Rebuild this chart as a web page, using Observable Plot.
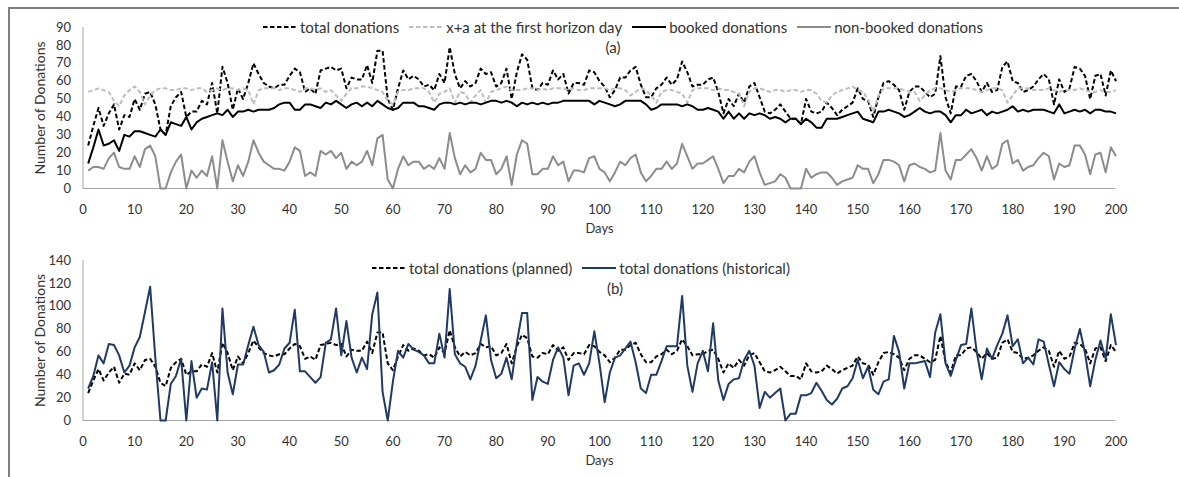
<!DOCTYPE html>
<html>
<head>
<meta charset="utf-8">
<script src="https://cdn.jsdelivr.net/npm/d3@7"></script>
<script src="https://cdn.jsdelivr.net/npm/@observablehq/plot@0.6"></script>
<style>
  body { margin: 0; background: #fff; }
  #fig { position: relative; width: 1179px; height: 477px; overflow: hidden;
         font-family: Lato, "Open Sans", sans-serif; color: #333; background: #fff; }
  #frame { position: absolute; left: 8px; top: 7px; right: -10px; bottom: -10px; z-index: 5;
           border-left: 2px solid #7f7f7f; border-top: 2px solid #7f7f7f; pointer-events: none; }
  .panel { position: absolute; left: 0; }
  .legend { position: absolute; display: flex; align-items: center; font-size: 15px;
            white-space: nowrap; line-height: 18px; }
  .legend .item { display: flex; align-items: center; margin-right: 10px; }
  .legend svg { margin-right: 3px; }
  .tag { position: absolute; font-size: 15px; line-height: 18px; transform: translateX(-50%); }
</style>
</head>
<body>
<div id="fig">
  <div id="panelA" class="panel" style="top:0px"></div>
  <div id="panelB" class="panel" style="top:245px"></div>
  <div id="legendA" class="legend" style="left:263px; top:18px"></div>
  <div class="tag" style="left:613px; top:38px">(a)</div>
  <div id="legendB" class="legend" style="left:372px; top:259px"></div>
  <div class="tag" style="left:615px; top:279px">(b)</div>
  <div id="frame"></div>
</div>
<script>
// Days of the planning horizon
const days = d3.range(1, 201);
const dayTicks = d3.range(0, 201, 10);
const ticksA = d3.range(0, 91, 10);
const ticksB = d3.range(0, 141, 20);

// Panel (a) series
const booked = [
  14,23,33,24,25,27,21,30,29,32, 32,31,30,29,33,30,37,36,35,40,
  33,37,39,40,41,42,41,44,40,43, 43,44,43,44,44,44,45,47,48,48,
  44,44,47,47,46,45,48,47,49,47, 45,47,48,46,48,46,49,47,45,44,
  45,48,48,48,46,46,45,44,47,48, 48,47,48,47,48,48,47,48,49,49,
  48,49,48,46,48,47,48,47,48,47, 48,48,49,49,49,49,49,49,47,49,
  48,47,46,47,49,49,49,49,47,44, 45,47,47,47,47,46,47,46,44,44,
  45,44,43,39,43,39,42,39,42,41, 42,41,39,40,39,37,39,39,36,39,
  37,34,34,39,39,39,40,41,42,43, 39,38,37,43,43,44,43,42,40,41,
  43,45,43,42,43,43,41,37,41,41, 44,42,43,44,41,43,42,43,44,46,
  43,44,43,44,44,44,43,42,47,42, 43,44,43,44,42,44,44,43,43,42
];
const nonBooked = [
  10,12,12,11,17,20,12,11,11,18, 12,22,24,18,0,0,9,15,19,0,
  10,6,10,7,18,0,27,15,4,13, 7,15,27,20,15,13,11,11,10,15,
  23,21,7,9,7,21,19,21,17,20, 11,15,13,15,21,13,28,30,5,0,
  11,18,13,15,15,11,13,11,17,11, 31,17,8,13,9,11,20,16,16,8,
  11,18,2,19,27,25,8,8,11,11, 18,13,15,4,10,10,9,17,18,11,
  9,4,9,15,13,17,19,9,4,7, 11,11,15,11,14,25,18,11,14,14,
  16,18,11,3,7,7,11,9,15,18, 9,2,3,4,8,6,0,0,0,11,
  6,8,9,9,6,2,4,5,6,13, 11,11,3,8,16,16,15,13,4,13,
  14,12,11,9,10,31,10,5,16,16, 19,22,17,10,18,11,13,25,27,14,
  16,10,12,13,17,20,18,5,14,12, 13,24,24,19,8,19,20,9,23,18
];
const totalDonations = [
  24,35,45,35,42,47,33,41,40,50, 44,53,54,47,33,30,46,51,54,40,
  43,43,49,47,59,42,68,59,44,56, 50,59,70,64,59,57,56,58,58,63,
  67,65,54,56,53,66,67,68,66,67, 56,62,61,61,69,59,77,77,50,44,
  56,66,61,63,61,57,58,55,64,59, 79,64,56,60,57,59,67,64,65,57,
  59,67,50,65,75,72,56,55,59,58, 66,61,64,53,59,59,58,66,65,60,
  57,51,55,62,62,66,68,58,51,51, 56,58,62,58,61,71,65,57,58,58,
  61,62,54,42,50,46,53,48,57,59, 51,43,42,44,47,43,39,39,36,50,
  43,42,43,48,45,41,44,46,48,56, 50,49,40,51,59,60,58,55,44,54,
  57,57,54,51,53,74,51,42,57,57, 63,64,60,54,59,54,55,68,71,60,
  59,54,55,57,61,64,61,47,61,54, 56,68,67,63,50,63,64,52,66,60
];
const firstHorizon = [
  54,55,56,55,54,49,46,52,55,57, 54,47,52,55,56,56,55,55,56,56,
  55,56,56,54,55,56,55,56,56,55, 56,55,47,55,56,56,56,55,56,56,
  55,54,56,56,55,56,54,55,52,49, 53,56,56,57,57,56,55,54,49,47,
  54,55,55,56,56,56,54,48,53,54, 56,48,54,53,48,52,55,48,54,55,
  56,57,55,55,55,56,56,55,56,55, 56,56,56,55,56,55,55,56,56,56,
  56,55,56,56,55,52,54,56,55,52, 48,54,55,55,54,53,48,55,56,56,
  56,55,56,55,55,54,53,46,54,56, 56,55,54,55,55,54,55,55,54,55,
  55,53,49,48,52,54,55,56,57,55, 54,50,43,52,56,56,56,56,55,54,
  54,49,52,55,56,56,55,54,55,56, 56,56,55,54,55,56,56,55,48,52,
  56,56,56,55,55,55,56,55,54,55, 55,55,56,55,54,54,55,54,54,55
];

// Panel (b) series: the planned totals are the totals of panel (a)
const historical = [
  28,39,57,50,67,66,57,42,48,64, 73,95,117,55,0,0,32,39,54,0,
  52,20,28,27,51,0,98,42,23,49, 49,66,82,66,60,42,44,49,63,68,
  97,43,43,38,33,38,68,71,98,57, 87,55,42,55,45,93,112,25,0,34,
  61,55,67,62,60,57,50,50,76,55, 115,58,50,47,36,48,70,92,53,37,
  41,55,36,68,94,94,18,38,34,32, 53,64,55,22,48,50,40,50,78,50,
  16,42,55,57,63,69,51,28,24,40, 40,52,65,65,65,109,48,25,50,61,
  43,85,35,18,32,36,37,53,61,48, 11,25,20,24,28,0,6,6,22,22,
  24,33,26,18,14,19,28,30,37,53, 37,47,27,23,34,36,74,60,28,50,
  50,51,52,38,77,93,50,39,53,66, 67,98,61,36,63,54,66,76,92,65,
  71,50,55,49,71,69,49,30,51,45, 41,63,80,59,30,53,70,54,93,66
];

const legendLabelsA = ["total donations", "x+a at the first horizon day", "booked donations", "non-booked donations"];
const legendLabelsB = ["total donations (planned)", "total donations (historical)"];
const yTitle = "Number of Donations";
const xTitle = "Days";

const navy = "#1f3b63";
const dash = "4.5,2.5";
const seriesA = [
  {key: "total", label: legendLabelsA[0], stroke: "#000000", dash},
  {key: "xa", label: legendLabelsA[1], stroke: "#bdbdbd", dash},
  {key: "booked", label: legendLabelsA[2], stroke: "#000000", dash: null},
  {key: "nonBooked", label: legendLabelsA[3], stroke: "#8c8c8c", dash: null}
];
const seriesB = [
  {key: "planned", label: legendLabelsB[0], stroke: "#000000", dash},
  {key: "historical", label: legendLabelsB[1], stroke: navy, dash: null}
];

const rowsA = days.map((d, i) => ({day: d, total: totalDonations[i], xa: firstHorizon[i],
  booked: booked[i], nonBooked: nonBooked[i]}));
const rowsB = days.map((d, i) => ({day: d, planned: totalDonations[i], historical: historical[i]}));

const axisColor = "#a6a6a6";
const baseStyle = {fontFamily: "Lato, 'Open Sans', sans-serif", fontSize: "13px", color: "#333",
  background: "transparent", overflow: "visible"};

function panel(rows, series, yDomain, yTicks, height, marginTop) {
  return Plot.plot({
    width: 1179, height,
    marginLeft: 82.5, marginRight: 63.5, marginTop, marginBottom: 57,
    style: baseStyle,
    x: {domain: [0, 200]},
    y: {domain: yDomain},
    marks: [
      Plot.ruleY([0], {stroke: axisColor, strokeWidth: 1}),
      Plot.ruleX([0], {stroke: axisColor, strokeWidth: 1}),
      Plot.axisX({ticks: dayTicks, tickSize: 0, tickPadding: 16, label: null, fontSize: 13}),
      Plot.axisY({ticks: yTicks, tickSize: 0, tickPadding: 12, label: null, fontSize: 13}),
      ...series.map(s => Plot.line(rows, {x: "day", y: s.key, stroke: s.stroke, strokeWidth: 2,
        strokeDasharray: s.dash ?? undefined, strokeLinejoin: "round", strokeLinecap: "butt"})),
      Plot.text([xTitle], {text: d => d, frameAnchor: "bottom", dy: 44, fontSize: 13, fill: "#333"}),
      Plot.text([yTitle], {text: d => d, frameAnchor: "left", textAnchor: "middle", dx: -42,
        rotate: -90, fontSize: 14, fill: "#333"})
    ]
  });
}

document.getElementById("panelA").append(panel(rowsA, seriesA, [0, 90], ticksA, 245, 27));
document.getElementById("panelB").append(panel(rowsB, seriesB, [0, 140], ticksB, 232, 15));

function legend(el, series) {
  for (const s of series) {
    const item = document.createElement("div");
    item.className = "item";
    item.innerHTML = `<svg width="34" height="6"><line x1="0" y1="3" x2="34" y2="3" stroke="${s.stroke}" stroke-width="2"${s.dash ? ` stroke-dasharray="${s.dash}"` : ""}/></svg><span>${s.label}</span>`;
    el.append(item);
  }
}
legend(document.getElementById("legendA"), seriesA);
legend(document.getElementById("legendB"), seriesB);
</script>
</body>
</html>
